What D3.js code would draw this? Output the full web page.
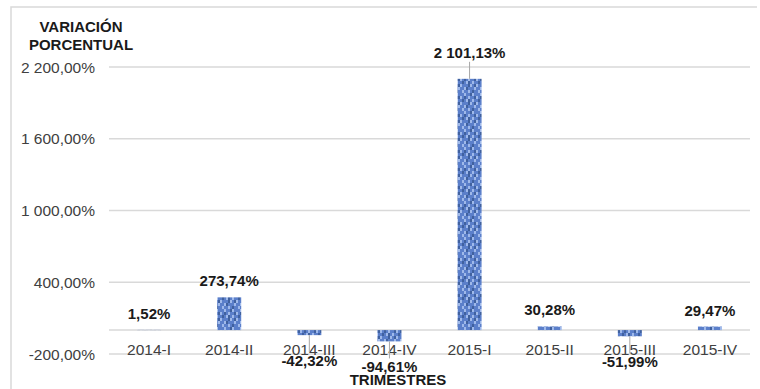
<!DOCTYPE html>
<html>
<head>
<meta charset="utf-8">
<script src="https://cdn.jsdelivr.net/npm/d3@7"></script>
<style>
  body { margin: 0; background: #fff; }
  svg { display: block; font-family: "Liberation Sans", Arial, sans-serif; }
</style>
</head>
<body>
<script>
const categories = ["2014-I", "2014-II", "2014-III", "2014-IV", "2015-I", "2015-II", "2015-III", "2015-IV"];
const values = [1.52, 273.74, -42.32, -94.61, 2101.13, 30.28, -51.99, 29.47];
const valueLabels = ["1,52%", "273,74%", "-42,32%", "-94,61%", "2 101,13%", "30,28%", "-51,99%", "29,47%"];
const yTicks = [-200, 400, 1000, 1600, 2200];
const yTickLabels = ["-200,00%", "400,00%", "1 000,00%", "1 600,00%", "2 200,00%"];

const width = 760, height = 389;

const svg = d3.select("body").append("svg")
    .attr("width", width)
    .attr("height", height);

// bar texture
const tile = [
    "mmlmdmml",
    "lmmdlmmm",
    "dmlmmdlm",
    "mldmlmmd",
    "mmdlmdlm",
    "ldmmmlmm"
];
const shade = { m: "#5b7fca", d: "#40619f", l: "#9fb9ea" };
const pat = svg.append("defs").append("pattern")
    .attr("id", "tex")
    .attr("patternUnits", "userSpaceOnUse")
    .attr("width", 16).attr("height", 18);
tile.forEach(function (row, r) {
    row.split("").forEach(function (c, i) {
        pat.append("rect")
            .attr("x", i * 2).attr("y", r * 3)
            .attr("width", 2).attr("height", 3)
            .attr("fill", shade[c]);
    });
});

// frame
svg.append("path")
    .attr("d", "M11,389V7H757")
    .attr("fill", "none")
    .attr("stroke", "#d9d9d9")
    .attr("stroke-width", 1.5);

const x = d3.scaleBand()
    .domain(categories)
    .range([109, 750]);

const y = d3.scaleLinear()
    .domain([-200, 2200])
    .range([354, 67]);

const barW = x.step() * 0.3;

// gridlines
svg.append("g")
    .selectAll("line")
    .data(yTicks.concat([0]))
    .enter().append("line")
    .attr("x1", 109).attr("x2", 750)
    .attr("y1", d => y(d)).attr("y2", d => y(d))
    .attr("stroke", "#d9d9d9")
    .attr("stroke-width", 1.5);

// y labels
svg.append("g")
    .selectAll("text")
    .data(yTicks)
    .enter().append("text")
    .attr("x", 95)
    .attr("y", d => y(d))
    .attr("dy", "0.36em")
    .attr("text-anchor", "end")
    .attr("font-size", 15.5)
    .attr("fill", "#404040")
    .text((d, i) => yTickLabels[i]);

// axis titles
const ttl = svg.append("text")
    .attr("x", 81)
    .attr("text-anchor", "middle")
    .attr("font-size", 15)
    .attr("font-weight", "bold")
    .attr("fill", "#1a1a1a");
ttl.append("tspan").attr("x", 81).attr("y", 32).text("VARIACIÓN");
ttl.append("tspan").attr("x", 81).attr("y", 50).text("PORCENTUAL");

svg.append("text")
    .attr("x", 398)
    .attr("y", 385)
    .attr("text-anchor", "middle")
    .attr("font-size", 15)
    .attr("font-weight", "bold")
    .attr("fill", "#1a1a1a")
    .text("TRIMESTRES");

// bars
svg.append("g")
    .selectAll("rect")
    .data(values)
    .enter().append("rect")
    .attr("x", (d, i) => x(categories[i]) + x.step() / 2 - barW / 2)
    .attr("y", d => y(Math.max(d, 0)))
    .attr("width", barW)
    .attr("height", d => Math.abs(y(d) - y(0)))
    .attr("fill", "url(#tex)");

// category labels
svg.append("g")
    .selectAll("text")
    .data(categories)
    .enter().append("text")
    .attr("x", d => x(d) + x.step() / 2)
    .attr("y", 355)
    .attr("text-anchor", "middle")
    .attr("font-size", 15.5)
    .attr("fill", "#404040")
    .text(d => d);

// leader lines
const leaders = values.map((v, i) => ({ v: v, i: i }))
    .filter(d => d.v < 0 || d.v > 1000);
svg.append("g")
    .selectAll("line")
    .data(leaders)
    .enter().append("line")
    .attr("x1", d => x(categories[d.i]) + x.step() / 2)
    .attr("x2", d => x(categories[d.i]) + x.step() / 2)
    .attr("y1", d => d.v < 0 ? y(d.v) : y(d.v) - 17)
    .attr("y2", d => d.v < 0 ? y(d.v) + 17 : y(d.v))
    .attr("stroke", "#a6a6a6")
    .attr("stroke-width", 1);

// value labels
svg.append("g")
    .selectAll("text")
    .data(values)
    .enter().append("text")
    .attr("x", (d, i) => x(categories[i]) + x.step() / 2)
    .attr("y", d => d < 0 ? y(d) + 31 : (d > 1000 ? y(d) - 21 : y(d) - 11))
    .attr("text-anchor", "middle")
    .attr("font-size", 15)
    .attr("font-weight", "bold")
    .attr("fill", "#1a1a1a")
    .text((d, i) => valueLabels[i]);
</script>
</body>
</html>
